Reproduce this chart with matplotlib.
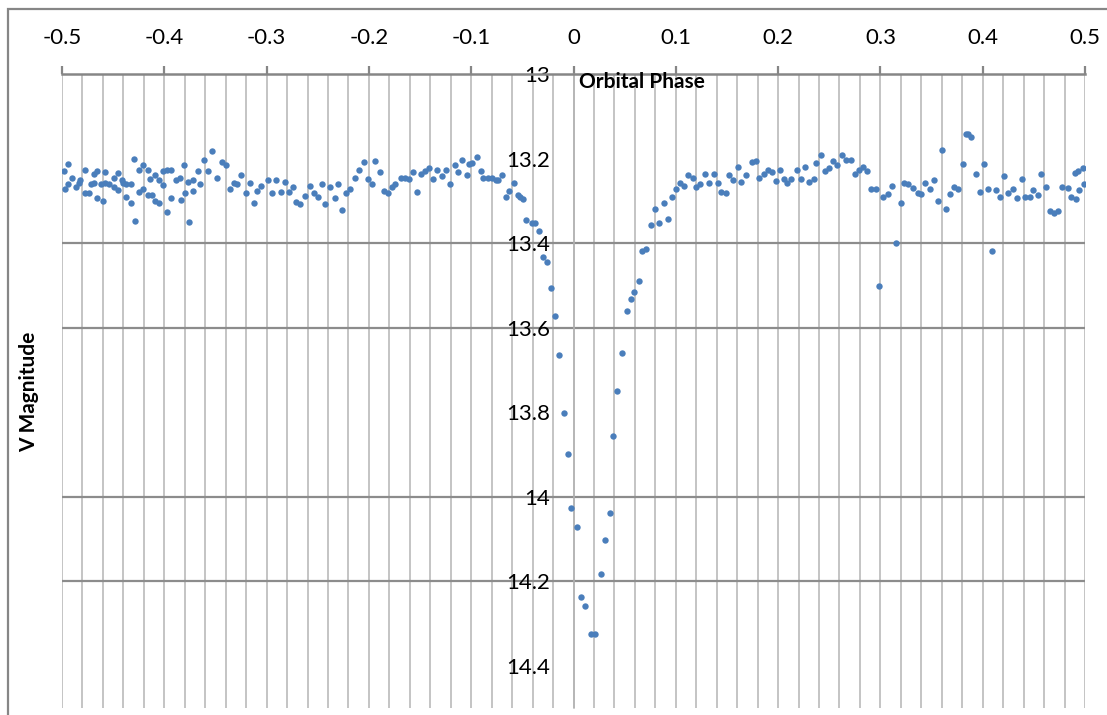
"""
Light curve recreation: V magnitude against orbital phase (Excel-style chart).
"""
import numpy as np
import matplotlib
matplotlib.use("Agg")
import matplotlib.pyplot as plt
from matplotlib.patches import Rectangle

plt.rcParams["font.family"] = ["Lato", "DejaVu Sans"]

# out-of-eclipse and eclipse photometry
phase = [
    -0.498, -0.494, -0.494, -0.497, -0.490, -0.486, -0.483, -0.482, -0.478, -0.478,
    -0.474, -0.472, -0.469, -0.469, -0.466, -0.466, -0.460, -0.462, -0.458, -0.458,
    -0.454, -0.449, -0.449, -0.445, -0.445, -0.441, -0.440, -0.437, -0.437, -0.433,
    -0.433, -0.430, -0.429, -0.425, -0.425, -0.421, -0.421, -0.416, -0.416, -0.412,
    -0.414, -0.409, -0.409, -0.405, -0.405, -0.401, -0.401, -0.397, -0.397, -0.393,
    -0.393, -0.389, -0.385, -0.384, -0.381, -0.380, -0.377, -0.376, -0.372, -0.372,
    -0.367, -0.365, -0.361, -0.357, -0.353, -0.348, -0.344, -0.340, -0.336, -0.332,
    -0.329, -0.325, -0.320, -0.316, -0.312, -0.309, -0.305,
    -0.299, -0.295, -0.291, -0.286, -0.282, -0.278, -0.274, -0.271, -0.267, -0.262,
    -0.258, -0.254, -0.250, -0.246, -0.243, -0.238, -0.233, -0.230, -0.226, -0.222,
    -0.218, -0.214, -0.210, -0.205, -0.201, -0.197, -0.194, -0.189, -0.185, -0.181,
    -0.177, -0.174, -0.169, -0.165, -0.161, -0.157, -0.153, -0.149, -0.145, -0.141,
    -0.137, -0.133, -0.129, -0.125, -0.121, -0.116, -0.113, -0.109, -0.104, -0.102,
    -0.099, -0.094, -0.090, -0.088, -0.084, -0.080, -0.076, -0.074, -0.070, -0.066,
    -0.063, -0.058, -0.054, -0.052, -0.049, -0.046, -0.041, -0.038, -0.034, -0.030,
    -0.026, -0.022, -0.018, -0.014, -0.009, -0.005, -0.002, 0.003, 0.007, 0.011,
    0.017, 0.021, 0.027, 0.031, 0.036, 0.039, 0.043, 0.047, 0.052, 0.056,
    0.059, 0.064, 0.067, 0.071, 0.076, 0.080, 0.084, 0.088, 0.092, 0.096,
    0.100, 0.104, 0.108, 0.112, 0.117, 0.120, 0.124, 0.129, 0.132, 0.137,
    0.141, 0.144, 0.149, 0.152, 0.156, 0.161, 0.164, 0.169, 0.174, 0.178,
    0.181, 0.186, 0.190, 0.194, 0.198, 0.202, 0.206, 0.209, 0.213, 0.218,
    0.222, 0.226, 0.230, 0.235, 0.237, 0.242, 0.246, 0.250, 0.254, 0.258,
    0.262, 0.266, 0.271, 0.275, 0.279, 0.283, 0.287, 0.291, 0.296, 0.299,
    0.303, 0.307, 0.311, 0.315, 0.320, 0.323, 0.327, 0.332, 0.337, 0.340,
    0.344, 0.348, 0.352, 0.356, 0.360, 0.364, 0.368, 0.372, 0.376, 0.381,
    0.384, 0.386, 0.389, 0.393, 0.397, 0.401, 0.405, 0.409, 0.413, 0.417,
    0.421, 0.425, 0.430, 0.434, 0.438, 0.441, 0.446, 0.449, 0.454, 0.457,
    0.462, 0.466, 0.470, 0.474, 0.478, 0.483, 0.486, 0.491, 0.494, 0.490,
    0.493, 0.498, 0.499,
]
vmag = [
    13.230, 13.212, 13.260, 13.273, 13.246, 13.267, 13.259, 13.251, 13.227, 13.281,
    13.282, 13.260, 13.257, 13.237, 13.230, 13.294, 13.300, 13.260, 13.231, 13.257,
    13.260, 13.247, 13.267, 13.234, 13.275, 13.251, 13.259, 13.260, 13.290, 13.260,
    13.305, 13.202, 13.347, 13.226, 13.280, 13.215, 13.273, 13.227, 13.286, 13.286,
    13.249, 13.238, 13.300, 13.251, 13.305, 13.230, 13.263, 13.227, 13.326, 13.226,
    13.294, 13.251, 13.245, 13.297, 13.216, 13.281, 13.255, 13.351, 13.251, 13.276,
    13.230, 13.260, 13.204, 13.230, 13.181, 13.245, 13.208, 13.216, 13.271, 13.257,
    13.260, 13.238, 13.281, 13.257, 13.305, 13.276, 13.265,
    13.251, 13.282, 13.251, 13.279, 13.256, 13.279, 13.268, 13.304, 13.308, 13.288,
    13.264, 13.281, 13.292, 13.260, 13.308, 13.268, 13.294, 13.261, 13.322, 13.281,
    13.273, 13.247, 13.227, 13.208, 13.249, 13.261, 13.207, 13.233, 13.276, 13.281,
    13.268, 13.261, 13.245, 13.245, 13.249, 13.233, 13.279, 13.237, 13.230, 13.223,
    13.249, 13.227, 13.241, 13.226, 13.260, 13.216, 13.233, 13.204, 13.240, 13.213,
    13.211, 13.197, 13.229, 13.245, 13.245, 13.247, 13.251, 13.251, 13.240, 13.292,
    13.276, 13.257, 13.286, 13.292, 13.296, 13.346, 13.353, 13.353, 13.371, 13.432,
    13.445, 13.506, 13.572, 13.664, 13.803, 13.899, 14.026, 14.071, 14.238, 14.259,
    14.325, 14.325, 14.182, 14.103, 14.039, 13.857, 13.750, 13.661, 13.560, 13.533,
    13.515, 13.490, 13.418, 13.413, 13.357, 13.320, 13.353, 13.306, 13.344, 13.292,
    13.271, 13.259, 13.265, 13.240, 13.245, 13.268, 13.261, 13.237, 13.259, 13.237,
    13.257, 13.278, 13.282, 13.240, 13.251, 13.219, 13.256, 13.240, 13.208, 13.205,
    13.247, 13.237, 13.226, 13.231, 13.253, 13.227, 13.248, 13.259, 13.249, 13.226,
    13.249, 13.219, 13.256, 13.249, 13.211, 13.192, 13.229, 13.223, 13.206, 13.215,
    13.191, 13.204, 13.204, 13.237, 13.226, 13.219, 13.230, 13.271, 13.271, 13.502,
    13.291, 13.283, 13.264, 13.401, 13.305, 13.258, 13.260, 13.269, 13.281, 13.283,
    13.258, 13.272, 13.251, 13.300, 13.180, 13.320, 13.283, 13.268, 13.271, 13.212,
    13.141, 13.142, 13.150, 13.237, 13.279, 13.212, 13.273, 13.418, 13.275, 13.290,
    13.241, 13.281, 13.273, 13.294, 13.249, 13.292, 13.292, 13.275, 13.287, 13.237,
    13.268, 13.324, 13.328, 13.324, 13.268, 13.269, 13.292, 13.295, 13.275, 13.234,
    13.229, 13.223, 13.260,
]

x_ticks = [-0.5, -0.4, -0.3, -0.2, -0.1, 0, 0.1, 0.2, 0.3, 0.4, 0.5]
x_labels = ["-0.5", "-0.4", "-0.3", "-0.2", "-0.1", "0", "0.1", "0.2", "0.3", "0.4", "0.5"]
y_ticks = [13, 13.2, 13.4, 13.6, 13.8, 14, 14.2, 14.4]
y_labels = ["13", "13.2", "13.4", "13.6", "13.8", "14", "14.2", "14.4"]
y_grid = [13.4, 13.6, 14.0, 14.2]   # horizontal gridlines that show in the reference

W, H = 1107, 715
fig = plt.figure(figsize=(W / 100, H / 100), dpi=100)
fig.patch.set_facecolor("white")
# chart border (gray frame, right/bottom cut off in the reference)
fig.patches.append(Rectangle((8 / W, -0.05), 1.2, 1 - 9 / H + 0.05, transform=fig.transFigure,
                             fill=False, edgecolor="#868686", linewidth=1.6))

ax = fig.add_axes([62 / W, 1 - 708 / H, 1023 / W, 634 / H])
ax.set_xlim(-0.5, 0.5)
ax.set_ylim(14.5, 13.0)

for xv in np.arange(-50, 51, 2) / 100:
    ax.axvline(xv, color="#b4b4b4", linewidth=1.1, zorder=0)
for yv in y_grid:
    ax.axhline(yv, color="#8c8c8c", linewidth=1.6, zorder=0)

ax.plot(phase, vmag, "o", color="#4a7ebb", markersize=4.6, markeredgewidth=0, zorder=3)

for s in ["right", "bottom"]:
    ax.spines[s].set_visible(False)
ax.spines["top"].set_color("#868686")
ax.spines["top"].set_linewidth(1.8)
ax.spines["left"].set_position(("data", 0))
ax.spines["left"].set_color("#b4b4b4")
ax.spines["left"].set_linewidth(1.1)

ax.xaxis.tick_top()
ax.set_xticks(x_ticks)
ax.set_xticklabels(x_labels)
ax.tick_params(axis="x", direction="out", length=6, width=1.6, color="#868686",
               pad=13, labelsize=16, labelcolor="black")
ax.set_yticks(y_ticks)
ax.set_yticklabels(y_labels)
ax.tick_params(axis="y", length=0, pad=17, labelsize=16, labelcolor="black")

ax.text(0.5665, 0.987, "Orbital Phase", transform=ax.transAxes, ha="center", va="center",
        fontsize=15, fontweight="bold")
fig.text(29 / W, 1 - 392 / H, "V Magnitude", rotation=90, ha="center", va="center",
         fontsize=15, fontweight="bold")

fig.savefig("out.png", dpi=100)
